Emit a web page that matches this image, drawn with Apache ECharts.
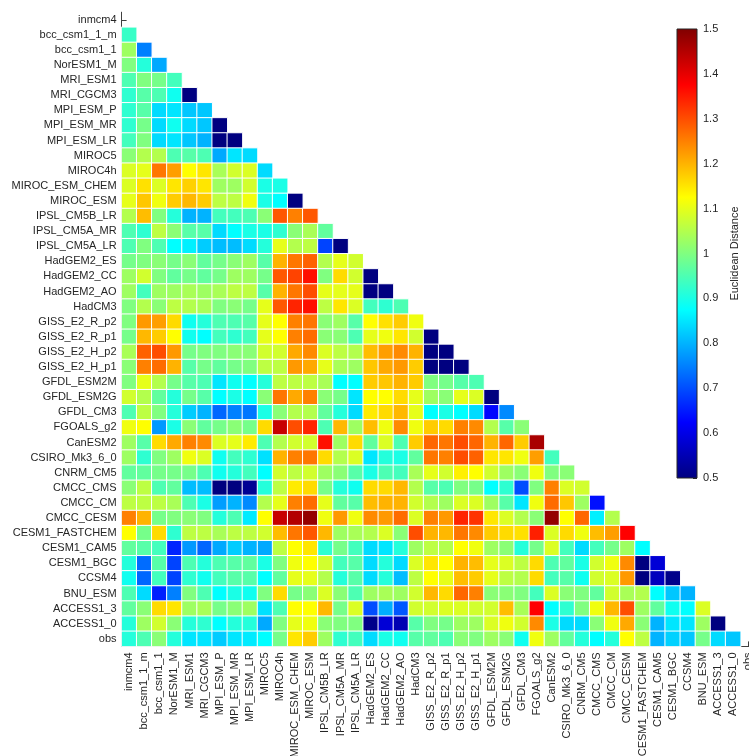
<!DOCTYPE html>
<html>
<head>
<meta charset="utf-8">
<script src="https://cdn.jsdelivr.net/npm/echarts@6/dist/echarts.min.js"></script>
<style>
  html, body { margin: 0; padding: 0; background: #ffffff; }
  #chart { width: 749px; height: 756px; }
</style>
</head>
<body>
<div id="chart"></div>
<script>
// Model names, top-to-bottom on the y axis and left-to-right on the x axis
const models = [
  'inmcm4', 'bcc_csm1_1_m', 'bcc_csm1_1', 'NorESM1_M', 'MRI_ESM1', 'MRI_CGCM3',
  'MPI_ESM_P', 'MPI_ESM_MR', 'MPI_ESM_LR', 'MIROC5', 'MIROC4h', 'MIROC_ESM_CHEM',
  'MIROC_ESM', 'IPSL_CM5B_LR', 'IPSL_CM5A_MR', 'IPSL_CM5A_LR', 'HadGEM2_ES',
  'HadGEM2_CC', 'HadGEM2_AO', 'HadCM3', 'GISS_E2_R_p2', 'GISS_E2_R_p1',
  'GISS_E2_H_p2', 'GISS_E2_H_p1', 'GFDL_ESM2M', 'GFDL_ESM2G', 'GFDL_CM3',
  'FGOALS_g2', 'CanESM2', 'CSIRO_Mk3_6_0', 'CNRM_CM5', 'CMCC_CMS', 'CMCC_CM',
  'CMCC_CESM', 'CESM1_FASTCHEM', 'CESM1_CAM5', 'CESM1_BGC', 'CCSM4', 'BNU_ESM',
  'ACCESS1_3', 'ACCESS1_0', 'obs'
];

// Euclidean distance of each model to every model listed before it (lower triangle)
const d_inmcm4 = [];
const d_bcc_csm1_1_m = [0.93];
const d_bcc_csm1_1 = [1.03, 0.75];
const d_NorESM1_M = [1.0, 0.91, 0.79];
const d_MRI_ESM1 = [0.95, 1.0, 0.99, 0.94];
const d_MRI_CGCM3 = [0.92, 0.96, 0.95, 0.89, 0.5];
const d_MPI_ESM_P = [0.92, 0.96, 0.84, 0.85, 0.82, 0.82];
const d_MPI_ESM_MR = [0.92, 0.99, 0.84, 0.89, 0.84, 0.82, 0.5];
const d_MPI_ESM_LR = [0.94, 1.0, 0.84, 0.85, 0.82, 0.80, 0.5, 0.5];
const d_MIROC5 = [1.01, 1.05, 1.05, 0.95, 0.96, 0.95, 0.79, 0.85, 0.84];
const d_MIROC4h = [1.09, 1.10, 1.26, 1.22, 1.125, 1.15, 1.04, 1.08, 1.09, 0.84];
const d_MIROC_ESM_CHEM = [1.09, 1.155, 1.09, 1.15, 1.17, 1.15, 1.03, 1.03, 1.08, 0.90, 0.90];
const d_MIROC_ESM = [1.10, 1.18, 1.11, 1.175, 1.195, 1.175, 1.06, 1.06, 1.11, 0.90, 0.875, 0.5];
const d_IPSL_CM5B_LR = [1.05, 1.19, 1.0, 0.91, 0.80, 0.80, 0.94, 0.94, 0.95, 1.01, 1.29, 1.25, 1.29];
const d_IPSL_CM5A_MR = [0.95, 0.92, 1.06, 1.01, 0.96, 0.96, 0.84, 0.875, 0.90, 0.90, 0.92, 1.01, 1.04, 0.97];
const d_IPSL_CM5A_LR = [0.95, 1.0, 0.95, 0.875, 0.86, 0.825, 0.81, 0.81, 0.84, 0.91, 1.10, 1.05, 1.06, 0.69, 0.5];
const d_HadGEM2_ES = [0.99, 1.0, 1.01, 0.99, 1.01, 0.97, 0.99, 1.01, 1.03, 0.96, 1.2, 1.26, 1.28, 1.05, 1.10, 1.08];
const d_HadGEM2_CC = [1.03, 1.08, 1.0, 0.97, 0.99, 0.97, 0.99, 1.03, 1.03, 0.99, 1.29, 1.31, 1.36, 1.0, 1.16, 1.08, 0.5];
const d_HadGEM2_AO = [1.03, 0.94, 1.03, 1.03, 1.04, 1.03, 1.04, 1.06, 1.06, 0.96, 1.2, 1.26, 1.3, 1.1, 1.1, 1.1, 0.5, 0.5];
const d_HadCM3 = [1.0, 1.05, 1.01, 1.06, 1.05, 1.04, 1.0, 1.01, 0.99, 1.1, 1.29, 1.34, 1.36, 1.06, 1.15, 1.09, 0.94, 0.92, 0.95];
const d_GISS_E2_R_p2 = [1.0, 1.225, 1.22, 1.16, 0.89, 0.91, 0.95, 0.95, 0.96, 1.1, 1.125, 1.25, 1.26, 1.01, 1.03, 0.96, 1.125, 1.155, 1.175, 1.11];
const d_GISS_E2_R_p1 = [0.99, 1.195, 1.175, 1.125, 0.89, 0.875, 0.94, 0.92, 0.94, 1.1, 1.125, 1.25, 1.27, 1.01, 1.01, 0.95, 1.1, 1.11, 1.15, 1.08, 0.5];
const d_GISS_E2_H_p2 = [1.04, 1.28, 1.3, 1.225, 0.99, 1.0, 1.0, 1.01, 1.01, 1.08, 1.08, 1.21, 1.24, 1.09, 1.06, 1.05, 1.19, 1.22, 1.24, 1.2, 0.5, 0.5];
const d_GISS_E2_H_p1 = [1.01, 1.25, 1.27, 1.2, 0.96, 0.99, 0.97, 0.99, 1.0, 1.06, 1.06, 1.225, 1.21, 1.1, 1.04, 1.03, 1.18, 1.21, 1.225, 1.175, 0.5, 0.5, 0.5];
const d_GFDL_ESM2M = [1.0, 1.1, 1.05, 0.99, 0.96, 0.95, 0.85, 0.89, 0.875, 0.91, 1.06, 1.06, 1.06, 1.04, 0.875, 0.875, 1.175, 1.18, 1.2, 1.175, 1.0, 0.99, 0.96, 0.95];
const d_GFDL_ESM2G = [1.08, 1.05, 0.97, 0.91, 0.99, 0.96, 0.875, 0.90, 0.875, 1.01, 1.26, 1.21, 1.25, 1.01, 0.99, 0.85, 1.125, 1.125, 1.16, 1.1, 1.03, 1.01, 1.1, 1.09, 0.5];
const d_GFDL_CM3 = [0.95, 1.06, 1.0, 0.91, 0.825, 0.80, 0.725, 0.75, 0.74, 0.90, 1.01, 1.05, 1.05, 0.97, 0.91, 0.84, 1.145, 1.16, 1.195, 1.1, 0.875, 0.90, 0.875, 0.84, 0.63, 0.76];
const d_FGOALS_g2 = [1.11, 1.125, 0.775, 0.90, 1.01, 0.97, 0.99, 1.01, 0.99, 1.16, 1.43, 1.3, 1.34, 0.95, 1.195, 1.03, 1.19, 1.11, 1.24, 1.11, 1.175, 1.16, 1.25, 1.24, 1.05, 0.96, 1.01];
const d_CanESM2 = [1.03, 0.96, 1.16, 1.21, 1.25, 1.24, 1.09, 1.10, 1.145, 0.95, 1.05, 1.08, 1.08, 1.36, 1.03, 1.16, 0.97, 1.09, 0.95, 1.175, 1.275, 1.26, 1.3, 1.275, 1.2, 1.275, 1.175, 1.46];
const d_CSIRO_Mk3_6_0 = [1.03, 0.92, 1.0, 1.03, 1.11, 1.09, 0.89, 0.94, 0.92, 0.845, 1.2, 1.25, 1.26, 1.16, 1.05, 1.09, 0.85, 0.91, 0.90, 0.97, 1.26, 1.25, 1.3, 1.28, 1.15, 1.15, 1.11, 1.22, 0.94];
const d_CNRM_CM5 = [0.97, 0.97, 0.99, 0.99, 0.99, 0.95, 0.89, 0.91, 0.94, 0.875, 1.08, 1.06, 1.08, 1.03, 1.01, 0.96, 0.90, 0.95, 0.94, 1.04, 1.1, 1.08, 1.14, 1.125, 1.08, 1.03, 1.01, 1.11, 1.0, 1.01];
const d_CMCC_CMS = [1.01, 1.06, 0.95, 0.97, 0.81, 0.81, 0.5, 0.5, 0.52, 0.91, 1.06, 1.145, 1.16, 0.99, 0.91, 0.89, 1.16, 1.16, 1.195, 1.05, 0.96, 0.95, 1.0, 0.99, 0.875, 0.92, 0.70, 1.0, 1.25, 1.09, 1.08];
const d_CMCC_CM = [1.06, 1.06, 1.06, 1.04, 0.95, 0.90, 0.78, 0.80, 0.76, 1.05, 1.10, 1.25, 1.27, 1.10, 0.97, 0.96, 1.19, 1.2, 1.2, 1.08, 1.05, 1.03, 1.09, 1.09, 1.03, 0.96, 0.85, 1.11, 1.27, 1.18, 1.03, 0.64];
const d_CMCC_CESM = [1.25, 1.2, 0.99, 1.0, 1.01, 1.0, 0.91, 0.95, 0.855, 1.125, 1.43, 1.45, 1.48, 1.11, 1.225, 1.11, 1.24, 1.225, 1.27, 1.09, 1.25, 1.225, 1.34, 1.325, 1.15, 1.09, 1.05, 1.01, 1.48, 1.125, 1.275, 0.86, 1.05];
const d_CESM1_FASTCHEM = [1.125, 0.99, 1.16, 0.92, 1.06, 1.06, 1.04, 1.06, 1.06, 1.08, 1.19, 1.26, 1.29, 1.195, 1.03, 1.04, 1.05, 1.09, 1.01, 1.3, 1.2, 1.195, 1.26, 1.24, 1.175, 1.16, 1.155, 1.345, 1.09, 1.16, 1.11, 1.19, 1.22, 1.375];
const d_CESM1_CAM5 = [0.97, 0.96, 0.94, 0.66, 0.775, 0.725, 0.79, 0.825, 0.80, 0.79, 1.06, 1.125, 1.15, 0.92, 0.99, 0.94, 0.84, 0.85, 0.91, 1.03, 1.06, 1.05, 1.125, 1.11, 1.03, 1.01, 0.91, 0.99, 1.09, 0.94, 0.84, 0.94, 0.99, 1.03, 0.875];
const d_CESM1_BGC = [0.91, 0.73, 0.96, 0.69, 0.95, 0.91, 0.95, 0.96, 0.97, 0.90, 1.0, 1.11, 1.125, 1.08, 0.94, 0.96, 0.84, 0.91, 0.84, 1.09, 1.15, 1.125, 1.2, 1.19, 1.1, 1.09, 1.06, 1.16, 0.95, 0.97, 0.90, 1.08, 1.11, 1.24, 0.5, 0.585];
const d_CCSM4 = [0.89, 0.725, 0.94, 0.69, 0.92, 0.89, 0.94, 0.96, 0.96, 0.875, 0.97, 1.1, 1.1, 1.05, 0.91, 0.96, 0.84, 0.91, 0.81, 1.06, 1.125, 1.1, 1.19, 1.175, 1.1, 1.06, 1.05, 1.16, 0.94, 0.96, 0.89, 1.08, 1.09, 1.225, 0.5, 0.56, 0.51];
const d_BNU_ESM = [0.95, 0.84, 0.655, 0.75, 1.0, 0.95, 0.875, 0.90, 0.89, 1.0, 1.16, 0.99, 1.01, 1.09, 1.01, 0.95, 1.03, 1.04, 1.03, 1.08, 1.195, 1.16, 1.275, 1.25, 1.01, 1.01, 1.0, 0.94, 1.09, 1.01, 1.0, 0.97, 1.08, 1.04, 1.05, 0.875, 0.82, 0.80];
const d_ACCESS1_3 = [0.97, 1.01, 1.16, 1.15, 1.03, 1.04, 0.99, 1.01, 1.03, 0.845, 0.95, 1.125, 1.125, 1.195, 0.99, 1.09, 0.70, 0.795, 0.71, 1.08, 1.08, 1.09, 1.09, 1.08, 1.08, 1.19, 1.04, 1.375, 0.875, 0.92, 1.0, 1.11, 1.195, 1.3, 1.03, 0.97, 0.89, 0.875, 1.09];
const d_ACCESS1_0 = [0.91, 1.03, 1.08, 1.01, 0.91, 0.92, 0.875, 0.91, 0.91, 0.79, 1.0, 1.1, 1.11, 1.01, 1.0, 1.0, 0.51, 0.585, 0.55, 0.96, 1.0, 0.99, 1.03, 1.03, 1.09, 1.11, 1.08, 1.24, 0.90, 0.84, 0.84, 1.01, 1.11, 1.21, 1.01, 0.80, 0.85, 0.85, 1.03, 0.5];
const d_obs = [0.91, 0.95, 1.01, 0.91, 0.85, 0.85, 0.825, 0.85, 0.855, 0.875, 0.99, 1.15, 1.175, 1.03, 0.92, 0.94, 0.84, 0.90, 0.89, 0.96, 0.97, 0.95, 1.01, 1.0, 1.03, 1.01, 0.89, 1.11, 1.03, 0.97, 0.91, 0.875, 0.91, 1.125, 1.06, 0.80, 0.83, 0.82, 0.99, 0.84, 0.82];

const distanceRows = [
  d_inmcm4, d_bcc_csm1_1_m, d_bcc_csm1_1, d_NorESM1_M, d_MRI_ESM1, d_MRI_CGCM3,
  d_MPI_ESM_P, d_MPI_ESM_MR, d_MPI_ESM_LR, d_MIROC5, d_MIROC4h, d_MIROC_ESM_CHEM,
  d_MIROC_ESM, d_IPSL_CM5B_LR, d_IPSL_CM5A_MR, d_IPSL_CM5A_LR, d_HadGEM2_ES,
  d_HadGEM2_CC, d_HadGEM2_AO, d_HadCM3, d_GISS_E2_R_p2, d_GISS_E2_R_p1,
  d_GISS_E2_H_p2, d_GISS_E2_H_p1, d_GFDL_ESM2M, d_GFDL_ESM2G, d_GFDL_CM3,
  d_FGOALS_g2, d_CanESM2, d_CSIRO_Mk3_6_0, d_CNRM_CM5, d_CMCC_CMS, d_CMCC_CM,
  d_CMCC_CESM, d_CESM1_FASTCHEM, d_CESM1_CAM5, d_CESM1_BGC, d_CCSM4, d_BNU_ESM,
  d_ACCESS1_3, d_ACCESS1_0, d_obs
];

// Colour scale range and colourbar ticks
const scaleMin = 0.5;
const scaleMax = 1.5;
const scaleStep = 0.1;

// Jet colormap stops, evenly spaced from scaleMin to scaleMax
const jet = ['#000080', '#0000ff', '#0080ff', '#00ffff', '#80ff80',
             '#ffff00', '#ff8000', '#ff0000', '#800000'];

// [column, row, value] triples for the heatmap
const cells = [];
distanceRows.forEach((row, r) => {
  row.forEach((v, c) => cells.push([c, r, v]));
});

const textColor = '#262626';
const axisColor = '#404040';
const font = '"Liberation Sans", Arial, Helvetica, sans-serif';

// Main plot and colourbar geometry (the last column runs past the right edge)
const cell = 15.1;
const plotLeft = 121.6, plotTop = 12.2;
const plotSize = cell * models.length;
const cbLeft = 677, cbTop = 29, cbWidth = 20, cbHeight = 449;

const chart = echarts.init(document.getElementById('chart'), null, { renderer: 'canvas' });

chart.setOption({
  animation: false,
  backgroundColor: '#ffffff',
  textStyle: { fontFamily: font },
  grid: [
    { left: plotLeft, top: plotTop, width: plotSize, height: plotSize,
      containLabel: false, outerBoundsMode: 'none' },
    { left: cbLeft, top: cbTop, width: cbWidth, height: cbHeight,
      containLabel: false, outerBoundsMode: 'none' }
  ],
  xAxis: [
    {
      type: 'category', gridIndex: 0, data: models, position: 'bottom',
      axisLine: { show: true, lineStyle: { color: axisColor, width: 1 } },
      axisTick: { show: true, inside: true, length: 5, alignWithLabel: true,
                  lineStyle: { color: axisColor } },
      axisLabel: { interval: 0, rotate: 90, margin: 6, fontSize: 11,
                   color: textColor, fontFamily: font },
      splitLine: { show: false }
    },
    { type: 'category', gridIndex: 1, data: [''], show: false }
  ],
  yAxis: [
    {
      type: 'category', gridIndex: 0, data: models, inverse: true,
      axisLine: { show: true, lineStyle: { color: axisColor, width: 1 } },
      axisTick: { show: true, inside: true, length: 5, alignWithLabel: true,
                  lineStyle: { color: axisColor } },
      axisLabel: { interval: 0, margin: 5, fontSize: 11, color: textColor,
                   fontFamily: font },
      splitLine: { show: false }
    },
    {
      type: 'value', gridIndex: 1, position: 'right',
      min: scaleMin, max: scaleMax, interval: scaleStep,
      axisLine: { show: false },
      axisTick: { show: true, inside: true, length: 4,
                  lineStyle: { color: textColor } },
      axisLabel: { margin: 6, fontSize: 11, color: textColor, fontFamily: font,
                   formatter: v => String(+v.toFixed(1)) },
      splitLine: { show: false },
      name: 'Euclidean Distance', nameLocation: 'middle', nameRotate: 90,
      nameGap: 32,
      nameTextStyle: { fontSize: 11, color: textColor, fontFamily: font }
    }
  ],
  visualMap: {
    show: false, type: 'continuous', seriesIndex: 0,
    min: scaleMin, max: scaleMax, inRange: { color: jet }
  },
  graphic: [{
    type: 'rect', z: 1,
    shape: { x: cbLeft, y: cbTop, width: cbWidth, height: cbHeight },
    style: {
      fill: new echarts.graphic.LinearGradient(0, 0, 0, 1,
        jet.slice().reverse().map((c, i, a) => ({ offset: i / (a.length - 1), color: c }))),
      stroke: textColor, lineWidth: 1
    }
  }],
  series: [{
    type: 'heatmap', xAxisIndex: 0, yAxisIndex: 0, data: cells,
    itemStyle: { borderColor: '#ffffff', borderWidth: 1 },
    emphasis: { disabled: true }
  }]
});
</script>
</body>
</html>
